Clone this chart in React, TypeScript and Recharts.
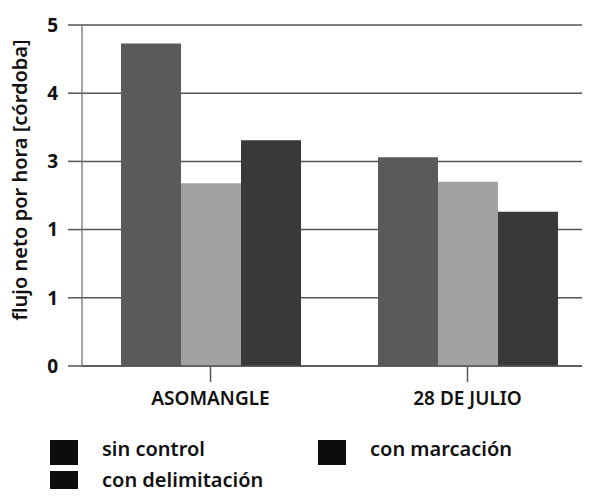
import React from 'react';
import { Bar, BarChart, CartesianGrid, XAxis, YAxis } from 'recharts';

const sites = ['ASOMANGLE', '28 DE JULIO'];
const sinControl = [4.73, 3.06];
const conMarcacion = [2.68, 2.7];
const conDelimitacion = [3.31, 2.26];
const yTicks = [0, 1, 2, 3, 4, 5];
const yTickLabels = ['0', '1', '1', '3', '4', '5'];

const FONT = '"Noto Sans", "DejaVu Sans", sans-serif';

const data = sites.map((site, i) => ({
    site,
    'sin control': sinControl[i],
    'con marcación': conMarcacion[i],
    'con delimitación': conDelimitacion[i],
}));

const legendItems = [
    { name: 'sin control', left: 50, top: 440 },
    { name: 'con marcación', left: 318, top: 440 },
    { name: 'con delimitación', left: 50, top: 471 },
];

// all legend swatches are printed solid black
const LegendBoxes = () => (
    <>
        {legendItems.map(item => (
            <div
                key={item.name}
                style={{ position: 'absolute', left: item.left, top: item.top, height: 25, display: 'flex', alignItems: 'flex-start', fontFamily: FONT }}
            >
                <div style={{ width: 28, height: 25, background: '#0d0d0d' }} />
                <span
                    style={{
                        marginLeft: 24,
                        fontSize: 20,
                        lineHeight: '20px',
                        fontWeight: 600,
                        color: '#111',
                        whiteSpace: 'nowrap',
                        position: 'relative',
                        top: -1,
                    }}
                >
                    {item.name}
                </span>
            </div>
        ))}
    </>
);

const YLabel = () => (
    <text
        transform="translate(22,180) rotate(-90)"
        textAnchor="middle"
        dominantBaseline="middle"
        fontFamily={FONT}
        fontSize={20}
        fontWeight={600}
        fill="#111"
    >
        flujo neto por hora [córdoba]
    </text>
);

export default function App() {
    return (
        <div style={{ position: 'relative', margin: -8, width: 590, height: 497, overflow: 'hidden', background: '#fff' }}>
            <BarChart
                width={598}
                height={497}
                data={data}
                margin={{ top: 25, right: 2, left: 0, bottom: 0 }}
                barCategoryGap={39}
                barGap={0}
            >
                <CartesianGrid vertical={false} stroke="#555" strokeWidth={1.5} />
                <XAxis
                    dataKey="site"
                    height={131}
                    axisLine={{ stroke: '#555', strokeWidth: 1.5 }}
                    tickLine={{ stroke: '#555', strokeWidth: 1.5 }}
                    tickSize={16}
                    tickMargin={10}
                    tick={{ fill: '#111', fontFamily: FONT, fontSize: 19, fontWeight: 600 }}
                />
                <YAxis
                    width={82}
                    domain={[0, 5]}
                    ticks={yTicks}
                    tickFormatter={(v, i) => yTickLabels[i]}
                    axisLine={{ stroke: '#888', strokeWidth: 1.5 }}
                    tickLine={{ stroke: '#555', strokeWidth: 1.5 }}
                    tickSize={14}
                    tickMargin={10}
                    tick={{ fill: '#111', fontFamily: FONT, fontSize: 19, fontWeight: 700 }}
                    label={{ content: () => <YLabel /> }}
                />
                <Bar dataKey="sin control" fill="#5a5a5a" isAnimationActive={false} />
                <Bar dataKey="con marcación" fill="#a2a2a2" isAnimationActive={false} />
                <Bar dataKey="con delimitación" fill="#393939" isAnimationActive={false} />
            </BarChart>
            <LegendBoxes />
        </div>
    );
}
